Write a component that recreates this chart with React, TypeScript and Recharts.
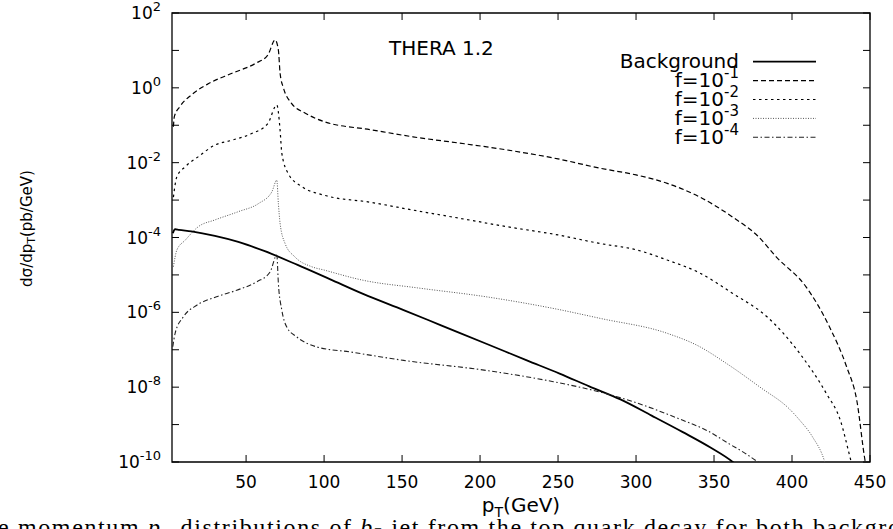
import React from 'react';
import { LineChart, Line, XAxis, YAxis, ReferenceArea, Legend, Label } from 'recharts';

// pT (GeV) and dsigma/dpT (pb/GeV)
const BG_PT = [3, 4.5, 7, 15, 30, 45, 62, 83, 104, 125, 151, 175, 204, 230, 251, 270, 290, 310, 330, 348, 362, 364];
const BG_VAL = [1.3e-4, 1.66e-4, 1.6e-4, 1.45e-4, 1.1e-4, 7.6e-5, 4.3e-5, 1.85e-5, 7.6e-6, 3.1e-6, 1.15e-6, 4.5e-7, 1.45e-7, 5.2e-8, 2.3e-8, 1.05e-8, 4.7e-9, 1.74e-9, 6.3e-10, 2.4e-10, 1.0e-10, 8.5e-11];

const F1_PT = [3.4, 4, 7.7, 15, 26, 41, 56, 64, 68.6, 70.7, 71.8, 74, 79, 88, 100, 130, 157, 190, 217, 250, 277, 300, 320, 340, 362, 378, 390, 409, 424, 435, 441.5, 447, 448.5];
const F1_VAL = [9.1e-2, 0.17, 0.32, 0.65, 1.3, 2.45, 4.5, 7.6, 19, 10.2, 2.45, 0.98, 0.39, 0.21, 0.125, 7.6e-2, 4.9e-2, 3.2e-2, 2.2e-2, 1.26e-2, 7.1e-3, 4.7e-3, 2.8e-3, 1.26e-3, 3.5e-4, 1.1e-4, 3.0e-5, 4.8e-6, 4.1e-7, 3.5e-8, 4.5e-9, 1.0e-10, 5e-11];

const F2_PT = [3.4, 5.6, 11, 19.4, 30, 41, 53.6, 64, 69.7, 71.8, 72.9, 77, 85.7, 100, 130, 157, 190, 217, 250, 277, 300, 320, 340, 362, 384, 405, 422, 431, 438, 440];
const F2_VAL = [1.2e-3, 4.2e-3, 7.8e-3, 1.45e-2, 2.95e-2, 4.0e-2, 6.0e-2, 0.112, 0.35, 7.4e-2, 1.8e-2, 5.1e-3, 2.3e-3, 1.35e-3, 8.7e-4, 5.4e-4, 3.1e-4, 1.95e-4, 1.17e-4, 6.9e-5, 4.7e-5, 2.5e-5, 1.17e-5, 3.2e-6, 7.6e-7, 7.9e-8, 6.8e-9, 1.3e-9, 1.0e-10, 5e-11];

const F3_PT = [3.4, 5.6, 11, 19.4, 30, 45, 58, 66.5, 69.7, 70.7, 71.8, 75, 81.4, 92, 100, 125, 160, 204, 250, 277, 320, 340, 358, 379.5, 399, 405, 413, 421, 423];
const F3_VAL = [1.66e-5, 4.6e-5, 8.5e-5, 1.95e-4, 2.95e-4, 4.9e-4, 8.1e-4, 1.66e-3, 3.4e-3, 8.1e-4, 2.4e-4, 6.9e-5, 3.0e-5, 1.66e-5, 1.35e-5, 7.2e-6, 4.5e-6, 2.6e-6, 1.2e-6, 6.9e-7, 2.75e-7, 1.26e-7, 4.3e-8, 1.0e-8, 2.45e-9, 1.3e-9, 4.8e-10, 1.0e-10, 5e-11];

const F4_PT = [3, 4.5, 9.8, 18.4, 31, 44, 57, 65.4, 69.7, 70.7, 72.9, 76, 82.5, 95, 117, 151, 204, 247, 277, 298, 330, 345, 360, 370, 378, 381];
const F4_VAL = [1.2e-7, 2.75e-7, 7.6e-7, 1.55e-6, 2.6e-6, 3.9e-6, 6.6e-6, 1.2e-5, 3.4e-5, 5.9e-6, 1.15e-6, 4.1e-7, 2.2e-7, 1.2e-7, 8.7e-8, 5.2e-8, 2.8e-8, 1.4e-8, 7.4e-9, 4.1e-9, 1.3e-9, 7.1e-10, 3.0e-10, 1.7e-10, 1.0e-10, 8e-11];

const X_TICKS = [50, 100, 150, 200, 250, 300, 350, 400, 450];
const Y_TICKS = [1e-10, 1e-9, 1e-8, 1e-7, 1e-6, 1e-5, 1e-4, 1e-3, 1e-2, 1e-1, 1, 10, 100];

const toRows = (pt: number[], val: number[]) => pt.map((p, i) => ({ pt: p, v: val[i] }));

const SERIES = [
  { key: 'bg', label: 'Background', exp: '', data: toRows(BG_PT, BG_VAL), stroke: '#000', width: 1.8, dash: undefined },
  { key: 'f1', label: 'f=10', exp: '-1', data: toRows(F1_PT, F1_VAL), stroke: '#000', width: 1.2, dash: '5 3' },
  { key: 'f2', label: 'f=10', exp: '-2', data: toRows(F2_PT, F2_VAL), stroke: '#000', width: 1.2, dash: '2.5 3.5' },
  { key: 'f3', label: 'f=10', exp: '-3', data: toRows(F3_PT, F3_VAL), stroke: '#555', width: 1, dash: '1 1.5' },
  { key: 'f4', label: 'f=10', exp: '-4', data: toRows(F4_PT, F4_VAL), stroke: '#222', width: 1.1, dash: '5 2.5 1.5 2.5' },
];

const FONT = '"DejaVu Sans", sans-serif';
const PLOT_W = 698;
const PLOT_H = 449;
const TICK = 7;

const YTick = (props: any) => {
  const { x, y, payload } = props;
  const exp = Math.round(Math.log10(payload.value));
  return (
    <g>
      <line x1={x} x2={x + TICK} y1={y} y2={y} stroke="#000" />
      <line x1={x + PLOT_W} x2={x + PLOT_W - TICK} y1={y} y2={y} stroke="#000" />
      {exp % 2 === 0 && (
        <text x={x - 11} y={y + 6} textAnchor="end" fontSize={17} fontFamily={FONT} fill="#000">
          10<tspan dy={-8} fontSize={13}>{exp}</tspan>
        </text>
      )}
    </g>
  );
};

const XTick = (props: any) => {
  const { x, y, payload } = props;
  return (
    <g>
      <line x1={x} x2={x} y1={y} y2={y - TICK} stroke="#000" />
      <line x1={x} x2={x} y1={y - PLOT_H} y2={y - PLOT_H + TICK} stroke="#000" />
      <text x={x} y={y + 26} textAnchor="middle" fontSize={17} fontFamily={FONT} fill="#000">
        {payload.value}
      </text>
    </g>
  );
};

const XTitle = (props: any) => {
  const { viewBox } = props;
  const cx = viewBox.x + viewBox.width / 2;
  return (
    <text x={cx} y={viewBox.y + 50} textAnchor="middle" fontSize={20} fontFamily={FONT} fill="#000">
      p<tspan dy={5} fontSize={14}>T</tspan><tspan dy={-5}>(GeV)</tspan>
    </text>
  );
};

const YTitle = (props: any) => {
  const { viewBox } = props;
  const cx = 27;
  const cy = viewBox.y + viewBox.height / 2 - 9;
  return (
    <text x={cx} y={cy} transform={`rotate(-90 ${cx} ${cy})`} textAnchor="middle" dominantBaseline="central"
      fontSize={15} fontFamily={FONT} fill="#000">
      dσ/dp<tspan dy={4} fontSize={11}>T</tspan><tspan dy={-4}>(pb/GeV)</tspan>
    </text>
  );
};

const LegendBox = () => (
  <svg width={270} height={110}>
    {SERIES.map((s, i) => {
      const y = 16.7 + i * 18.9;
      return (
        <g key={s.key}>
          <text x={179} y={y + 6.5} textAnchor="end" fontSize={20} fontFamily={FONT} fill="#000">
            {s.label}
            {s.exp && <tspan dy={-9} fontSize={15}>{s.exp}</tspan>}
          </text>
          <line x1={193} x2={256} y1={y} y2={y} stroke={s.stroke} strokeWidth={s.width} strokeDasharray={s.dash} />
        </g>
      );
    })}
  </svg>
);

export default function App() {
  return (
    <div style={{ position: 'absolute', left: 0, top: 0, width: 893, height: 529, overflow: 'hidden', background: '#fff' }}>
      <LineChart width={893} height={529} margin={{ top: 13, right: 23, bottom: 27, left: 112 }}>
        <XAxis type="number" dataKey="pt" domain={[2.5, 450]} ticks={X_TICKS} interval={0} allowDataOverflow
          height={40} axisLine={false} tickLine={false} tickSize={0} tickMargin={0} tick={<XTick />}>
          <Label content={<XTitle />} />
        </XAxis>
        <YAxis type="number" scale="log" domain={[1e-10, 100]} ticks={Y_TICKS} interval={0} allowDataOverflow
          width={60} axisLine={false} tickLine={false} tickSize={0} tickMargin={0} tick={<YTick />}>
          <Label content={<YTitle />} />
        </YAxis>
        <ReferenceArea x1={2.5} x2={450} y1={1e-10} y2={100} fill="none" fillOpacity={0} stroke="#000" strokeWidth={1.3} />
        {SERIES.map((s) => (
          <Line key={s.key} data={s.data} dataKey="v" name={s.key} type="monotone" dot={false} activeDot={false}
            stroke={s.stroke} strokeWidth={s.width} strokeDasharray={s.dash} isAnimationActive={false} />
        ))}
        <Legend layout="vertical" align="center" verticalAlign="middle" content={<LegendBox />}
          wrapperStyle={{ left: 560, top: 45, width: 270, height: 110 }} />
      </LineChart>
      <div style={{ position: 'absolute', left: 389, top: 36, fontFamily: FONT, fontSize: 20, lineHeight: '24px', whiteSpace: 'nowrap' }}>
        THERA 1.2
      </div>
      <svg width={893} height={529} style={{ position: 'absolute', left: 0, top: 0, pointerEvents: 'none' }}>
        <text x={-2} y={535} fontSize={24} fontFamily='"Liberation Serif", serif' fill="#000"
          textLength={902} lengthAdjust="spacing">
          e momentum <tspan fontStyle="italic">p</tspan><tspan dy={5} fontSize={16}>T</tspan>
          <tspan dy={-5}> distributions of </tspan><tspan fontStyle="italic">b</tspan>- jet from the top quark decay for both backgro
        </text>
      </svg>
    </div>
  );
}
